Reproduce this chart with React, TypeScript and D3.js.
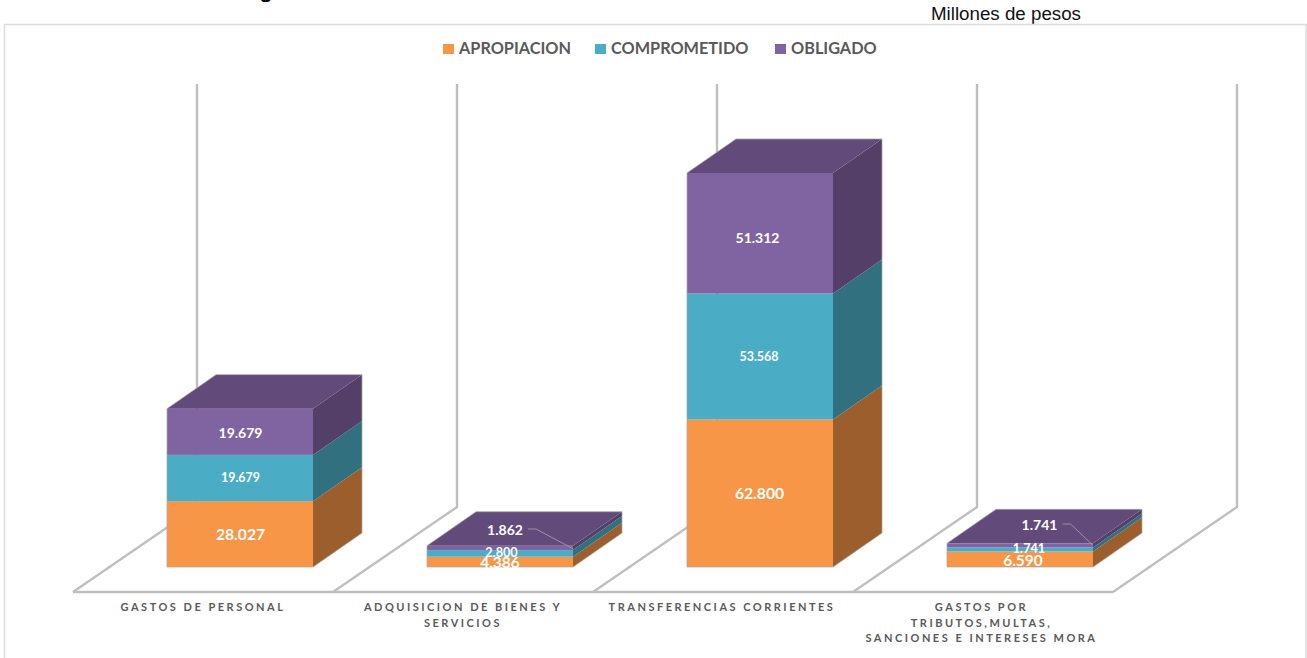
import React from "react";
import * as d3 from "d3";

const categories = ["GASTOS DE PERSONAL", "ADQUISICION DE BIENES Y SERVICIOS", "TRANSFERENCIAS CORRIENTES", "GASTOS POR TRIBUTOS,MULTAS, SANCIONES E INTERESES MORA"];
const categoryLines = [["GASTOS DE PERSONAL"], ["ADQUISICION DE BIENES Y", "SERVICIOS"], ["TRANSFERENCIAS CORRIENTES"], ["GASTOS POR", "TRIBUTOS,MULTAS,", "SANCIONES E INTERESES MORA"]];
const seriesNames = ["APROPIACION", "COMPROMETIDO", "OBLIGADO"];
const apropiacion = [28027, 4386, 62800, 6590];
const comprometido = [19679, 2800, 53568, 1741];
const obligado = [19679, 1862, 51312, 1741];
const seriesValues = [apropiacion, comprometido, obligado];
const labelFormat = (v: number) => d3.format(",")(v).replace(/,/g, ".");

const front = ["#F79646", "#4BACC6", "#8064A2"];
const top3 = ["#c67a3c", "#2f6f80", "#624b7a"];
const side = ["#9c5e2c", "#31707f", "#543f69"];
const labelSize = [[15.7, 12.5, 14], [15.5, 12.7, 14], [15.7, 12.5, 14], [15.5, 12.7, 14]];
const labelDy = [[0, 0, 1], [1, -0.5, 0], [0, 0, 5], [1, -1, 0]];
const labelDx = [[0.5, 0.5, 0.5], [0, 1.5, 0], [-0.5, -1, -2.5], [3, 9, 0]];
const catDx = [0, 0, -1, -1.5];

const W = 1307, H = 658;
const x = d3.scaleBand<number>().domain([0, 1, 2, 3]).range([73, 1113]).paddingInner(0).paddingOuter(0);
const y = d3.scaleLinear().domain([0, 100000]).range([567, 332]);
const depth = { x: 49, y: -34 };
const wall = { x: 124, y: -85 };
const barW = 146;
const floorY = 592, wallTop = 84;
const gridC = "#bfbfbf";
const font = "Lato, 'Open Sans', sans-serif";

export default function App() {
  const stacked = d3.stack<number>().keys(["0", "1", "2"]).value((i, k) => seriesValues[+k][i])([0, 1, 2, 3]);
  return (
    <svg width={W} height={H} style={{ position: "absolute", left: 0, top: 0, background: "#fff" }}>
      <text x={266} y={-3} fontFamily="Liberation Sans" fontSize={26} textAnchor="middle" fill="#000">g</text>
      <text x={1006} y={20} fontFamily="Liberation Sans, Arial, sans-serif" fontSize={18.7} textAnchor="middle" fill="#111" textLength={150} lengthAdjust="spacingAndGlyphs">Millones de pesos</text>
      <path d={`M4.5 ${H}V24.5H1306V${H}`} fill="none" stroke="#dcdcdc" strokeWidth={1.5} />

      {seriesNames.map((n, i) => {
        const lx = [443, 595, 775][i];
        return (
          <g key={n}>
            <rect x={lx} y={44} width={11} height={10} fill={front[i]} />
            <text x={lx + 16} y={54} fontFamily={font} fontWeight={700} fontSize={16.3} fill="#595959">{n}</text>
          </g>
        );
      })}

      {/* floor and walls */}
      <line x1={73} x2={1113} y1={floorY} y2={floorY} stroke={gridC} strokeWidth={2.4} />
      {[0, 1, 2, 3, 4].map((i) => {
        const bx = i < 4 ? x(i)! : x(3)! + x.bandwidth();
        return (
          <path key={i} d={`M${bx} ${floorY}L${bx + wall.x} ${floorY + wall.y}V${wallTop}`} fill="none" stroke={gridC} strokeWidth={2.4} />
        );
      })}

      {/* 3D bars */}
      {categories.map((c, ci) => {
        const bx = x(ci)! + 94;
        const yBase = y(0), yTop = y(stacked[2][ci][1]);
        return (
          <g key={c}>
            {stacked.map((s, si) => {
              const y0 = y(s[ci][0]), y1 = y(s[ci][1]);
              return (
                <g key={si}>
                  <path d={`M${bx + barW} ${y0}l${depth.x} ${depth.y}V${y1 + depth.y}L${bx + barW} ${y1}Z`} fill={side[si]} />
                  <rect x={bx} y={y1} width={barW} height={y0 - y1} fill={front[si]} />
                  {si === 2 && (
                    <path d={`M${bx} ${y1}l${depth.x} ${depth.y}h${barW}l${-depth.x} ${-depth.y}Z`} fill={top3[si]} />
                  )}
                </g>
              );
            })}
            <path
              d={`M${bx} ${yBase}V${yTop}l${depth.x} ${depth.y}h${barW}V${yBase + depth.y}L${bx + barW} ${yBase}Z`}
              fill="none" stroke="#a6a6a6" strokeWidth={0.7}
            />
          </g>
        );
      })}

      {/* data labels */}
      {categories.map((c, ci) => {
        const bx = x(ci)! + 94;
        const small = seriesValues[2][ci] < 5000;
        return (
          <g key={c} fontFamily={font} fontWeight={700} fill="#fff" textAnchor="middle">
            {seriesValues.map((vals, si) => {
              const s = stacked[si][ci];
              const cy = (y(s[0]) + y(s[1])) / 2;
              if (si === 2 && small) {
                const tx = ci === 1 ? 505 : 1039.5;
                const ty = ci === 1 ? 530 : 525;
                return (
                  <g key={si}>
                    <text x={tx} y={ty + 4.5} fontSize={labelSize[ci][si]}>{labelFormat(vals[ci])}</text>
                    <path d={`M${tx + 23} ${ty - 1}h8L${bx + barW} ${y(s[1]) + (ci === 1 ? 3 : 2)}`} fill="none" stroke="#a6a6a6" strokeWidth={0.8} />
                  </g>
                );
              }
              return (
                <text key={si} x={bx + 73 + labelDx[ci][si]} y={cy + labelDy[ci][si]} dy="0.35em" fontSize={labelSize[ci][si]}>{labelFormat(vals[ci])}</text>
              );
            })}
          </g>
        );
      })}

      {/* category labels */}
      {categoryLines.map((lines, ci) => (
        <text key={ci} fontFamily={font} fontWeight={700} fontSize={11} letterSpacing={2.5} fill="#595959" textAnchor="middle">
          {lines.map((l, li) => (
            <tspan key={li} x={x(ci)! + 130 + catDx[ci]} y={611 + li * 15.7}>{l}</tspan>
          ))}
        </text>
      ))}
    </svg>
  );
}
